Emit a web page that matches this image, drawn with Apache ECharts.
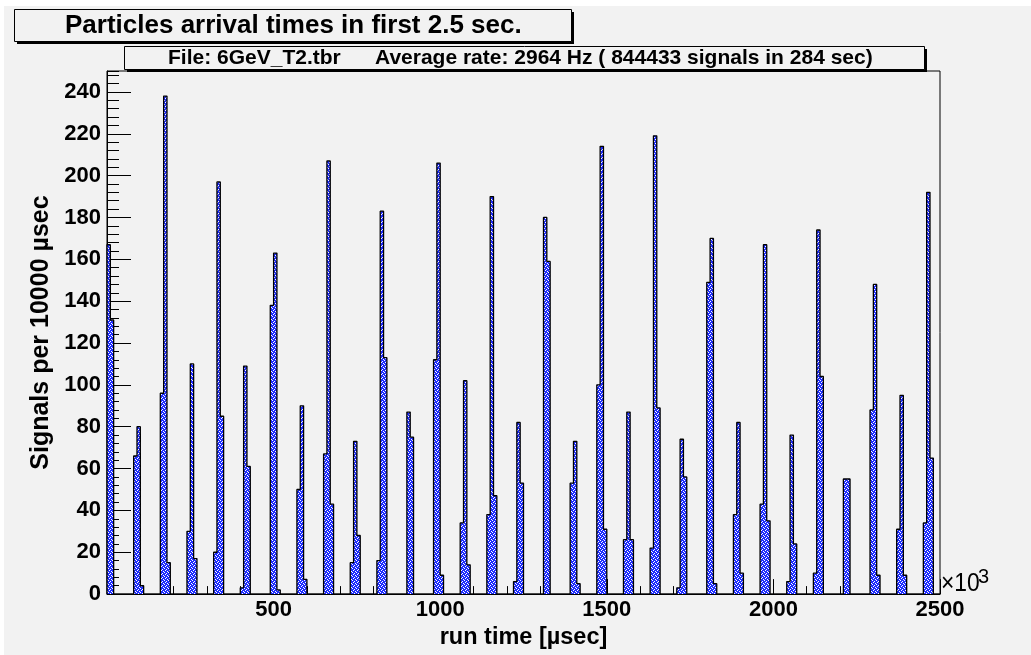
<!DOCTYPE html>
<html>
<head>
<meta charset="utf-8">
<title>Particles arrival times</title>
<script src="https://cdn.jsdelivr.net/npm/echarts@6/dist/echarts.min.js"></script>
<style>
  html, body { margin: 0; padding: 0; background: #fff; }
  #main { width: 1031px; height: 655px; }
</style>
</head>
<body>
<div id="main"></div>
<script>
// histogram: 250 bins of 10 (x10^3 usec) each, only non-empty bins listed
var nBins = 250
var binWidth = 10
var filledBins = [0, 1, 8, 9, 10, 16, 17, 18, 24, 25, 26, 32, 33, 34, 40, 41, 42,
  49, 50, 51, 57, 58, 59, 65, 66, 67, 73, 74, 75, 81, 82, 83, 90, 91, 98, 99, 100,
  106, 107, 108, 114, 115, 116, 122, 123, 124, 131, 132, 139, 140, 141, 147, 148, 149,
  155, 156, 157, 163, 164, 165, 171, 172, 173, 180, 181, 182, 188, 189, 190,
  196, 197, 198, 204, 205, 206, 212, 213, 214, 221, 222, 229, 230, 231,
  237, 238, 239, 245, 246, 247]
var binCounts = [167, 131, 66, 80, 4, 96, 238, 15, 30, 110, 17, 20, 197, 85, 3, 109, 61,
  138, 163, 2, 50, 90, 7, 67, 207, 43, 15, 73, 28, 16, 183, 113, 87, 75, 112, 206, 9,
  34, 102, 14, 38, 190, 47, 6, 82, 53, 180, 159, 53, 73, 5, 100, 214, 31,
  26, 87, 26, 22, 219, 89, 3, 74, 56, 149, 170, 5, 38, 82, 10,
  43, 167, 35, 6, 76, 24, 10, 174, 104, 55, 55, 88, 148, 9,
  31, 95, 9, 34, 192, 65]

var titleText = 'Particles arrival times in first 2.5 sec.'
var fileText = 'File: 6GeV_T2.tbr'
var rateText = 'Average rate: 2964 Hz ( 844433 signals in 284 sec)'

// full bin contents, then a step outline over the bin edges
var counts = new Array(nBins).fill(0)
filledBins.forEach(function (b, i) { counts[b] = binCounts[i] })
var stepData = [[0, 0]]
counts.forEach(function (c, i) { stepData.push([i * binWidth, c]) })
stepData.push([nBins * binWidth, 0])

// dotted blue fill: one white pixel per row and per column of a 4x4 tile
var pat = document.createElement('canvas')
pat.width = 4
pat.height = 4
var pctx = pat.getContext('2d')
var img = pctx.createImageData(4, 4)
var whiteCol = [0, 2, 1, 3]
for (var py = 0; py < 4; py++) {
  for (var px = 0; px < 4; px++) {
    var k = (py * 4 + px) * 4
    var white = px === whiteCol[py]
    img.data[k] = white ? 255 : 30
    img.data[k + 1] = white ? 255 : 45
    img.data[k + 2] = 255
    img.data[k + 3] = 255
  }
}
pctx.putImageData(img, 0, 0)

var font = 'Liberation Sans'
var bg = '#f2f2f2'

var myChart = echarts.init(document.getElementById('main'))
var option = {
  animation: false,
  backgroundColor: '#fff',
  grid: {
    left: 107,
    right: 91,
    top: 71,
    bottom: 59,
    show: true,
    borderColor: '#000',
    borderWidth: 1,
    backgroundColor: 'transparent'
  },
  xAxis: {
    type: 'value',
    min: 0,
    max: 2500,
    interval: 500,
    name: 'run time [µsec]',
    nameLocation: 'middle',
    nameGap: 27,
    nameTextStyle: { fontFamily: font, fontWeight: 'bold', fontSize: 23.5, color: '#000' },
    axisLine: { show: true, lineStyle: { color: '#000', width: 1 } },
    axisTick: { show: true, inside: true, length: 15, lineStyle: { color: '#000' } },
    minorTick: { show: true, splitNumber: 5, length: 8, lineStyle: { color: '#000' } },
    splitLine: { show: false },
    axisLabel: {
      margin: 5,
      fontFamily: font,
      fontWeight: 'bold',
      fontSize: 22,
      color: '#000',
      formatter: function (v) { return v === 0 ? '' : String(v) }
    }
  },
  yAxis: [
    {
      type: 'value',
      min: 0,
      max: 250,
      interval: 20,
      name: 'Signals per 10000 µsec',
      nameLocation: 'middle',
      nameGap: 52,
      nameTextStyle: { fontFamily: font, fontWeight: 'bold', fontSize: 25, color: '#000' },
      axisLine: { show: true, lineStyle: { color: '#000', width: 1 } },
      axisTick: { show: true, inside: true, length: 24, lineStyle: { color: '#000' } },
      splitLine: { show: false },
      axisLabel: {
        margin: 6,
        fontFamily: font,
        fontWeight: 'bold',
        fontSize: 22,
        color: '#000',
        showMaxLabel: false,
        formatter: function (v) { return v % 20 === 0 ? String(v) : '' }
      }
    },
    {
      // minor ticks only
      type: 'value',
      position: 'left',
      min: 0,
      max: 250,
      interval: 4,
      axisLine: { show: false },
      axisTick: { show: true, inside: true, length: 12, lineStyle: { color: '#000' } },
      axisLabel: { show: false },
      splitLine: { show: false }
    }
  ],
  series: [
    {
      type: 'line',
      step: 'end',
      data: stepData,
      symbol: 'none',
      z: 3,
      lineStyle: { color: '#000', width: 1.3 },
      areaStyle: { color: { image: pat, repeat: 'repeat' }, opacity: 1 }
    }
  ],
  graphic: [
    { type: 'rect', z: -10, silent: true, shape: { x: 4, y: 6, width: 1027, height: 649 }, style: { fill: bg } },
    // title box with shadow
    { type: 'rect', z: 10, shape: { x: 17, y: 12, width: 557, height: 32 }, style: { fill: '#000' } },
    { type: 'rect', z: 11, shape: { x: 14.5, y: 9.5, width: 557, height: 32 }, style: { fill: bg, stroke: '#000', lineWidth: 1 } },
    {
      type: 'text', z: 12, x: 65, y: 26,
      style: { text: titleText, fontFamily: font, fontWeight: 'bold', fontSize: 26, fill: '#000', verticalAlign: 'middle' }
    },
    // subtitle box with shadow
    { type: 'rect', z: 10, shape: { x: 127, y: 49, width: 800, height: 23 }, style: { fill: '#000' } },
    { type: 'rect', z: 11, shape: { x: 124.5, y: 46.5, width: 800, height: 23 }, style: { fill: bg, stroke: '#000', lineWidth: 1 } },
    {
      type: 'text', z: 12, x: 168, y: 58.5,
      style: { text: fileText, fontFamily: font, fontWeight: 'bold', fontSize: 21, fill: '#000', verticalAlign: 'middle' }
    },
    {
      type: 'text', z: 12, x: 375, y: 58.5,
      style: { text: rateText, fontFamily: font, fontWeight: 'bold', fontSize: 21, fill: '#000', verticalAlign: 'middle' }
    },
    // x10^3 axis exponent
    {
      type: 'text', z: 12, x: 941, y: 597, scaleX: 0.88,
      style: { text: '×10', fontFamily: font, fontSize: 26, fill: '#000', verticalAlign: 'bottom' }
    },
    {
      type: 'text', z: 12, x: 978, y: 567,
      style: { text: '3', fontFamily: font, fontSize: 20, fill: '#000', verticalAlign: 'top' }
    }
  ]
}
myChart.setOption(option)
</script>
</body>
</html>
